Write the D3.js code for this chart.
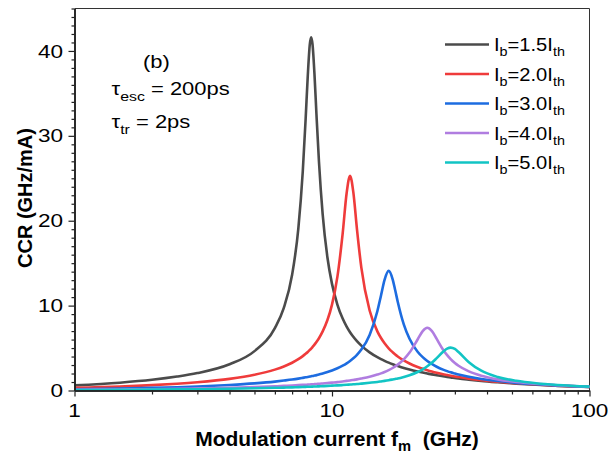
<!DOCTYPE html>
<html><head><meta charset="utf-8">
<script src="https://cdn.jsdelivr.net/npm/d3@7/dist/d3.min.js"></script>
<style>
body{margin:0;background:#fff}
svg{display:block}
text{font-family:Arial,"Liberation Sans",sans-serif;fill:#000}
</style>
</head><body>
<svg id="chart" width="608" height="455"></svg>
<script>
// Modulation frequency grid (GHz)
const freqGHz = [1, 1.5, 2, 2.5, 3, 4, 5, 6, 6.5, 7, 7.4, 7.7, 7.9, 8.05, 8.2, 8.3, 8.4, 8.55, 8.7, 8.9, 9.2, 9.6, 10, 10.5, 11, 11.4, 11.75, 12.1, 12.5, 13, 14, 15, 15.5, 16, 16.6, 17.2, 17.6, 18, 19, 20, 21.5, 22.5, 23.45, 24.4, 25.5, 27, 28, 28.9, 30, 31, 34, 38, 44, 52, 62, 75, 100];
// CCR (GHz/mA) for each bias current
const ccrIb15 = [0.60, 0.92, 1.26, 1.64, 2.05, 3.09, 4.64, 7.36, 9.73, 13.63, 19.08, 25.80, 31.98, 36.99, 40.78, 41.62, 40.80, 37.24, 32.60, 26.95, 20.76, 15.67, 12.56, 10.10, 8.47, 7.53, 6.87, 6.33, 5.81, 5.28, 4.49, 3.92, 3.69, 3.49, 3.28, 3.10, 2.99, 2.89, 2.66, 2.47, 2.24, 2.11, 2.00, 1.90, 1.80, 1.68, 1.60, 1.55, 1.48, 1.42, 1.28, 1.13, 0.97, 0.81, 0.67, 0.55, 0.41];
const ccrIb20 = [0.31, 0.46, 0.63, 0.80, 0.98, 1.37, 1.85, 2.46, 2.83, 3.27, 3.69, 4.05, 4.32, 4.54, 4.78, 4.94, 5.12, 5.40, 5.71, 6.16, 6.96, 8.30, 10.12, 13.44, 18.49, 23.27, 25.30, 23.36, 19.02, 14.47, 9.42, 6.97, 6.18, 5.56, 4.97, 4.51, 4.24, 4.01, 3.54, 3.18, 2.77, 2.55, 2.38, 2.23, 2.08, 1.91, 1.82, 1.74, 1.65, 1.58, 1.40, 1.22, 1.03, 0.85, 0.70, 0.57, 0.43];
const ccrIb30 = [0.15, 0.23, 0.31, 0.39, 0.47, 0.65, 0.84, 1.05, 1.17, 1.29, 1.40, 1.49, 1.55, 1.59, 1.64, 1.68, 1.71, 1.76, 1.81, 1.89, 2.00, 2.17, 2.36, 2.62, 2.92, 3.20, 3.48, 3.79, 4.20, 4.82, 6.55, 9.34, 11.20, 13.04, 14.09, 13.10, 11.80, 10.46, 7.79, 6.09, 4.57, 3.93, 3.48, 3.13, 2.80, 2.46, 2.28, 2.14, 2.00, 1.88, 1.61, 1.36, 1.11, 0.90, 0.73, 0.59, 0.43];
const ccrIb40 = [0.08, 0.12, 0.15, 0.19, 0.23, 0.31, 0.40, 0.49, 0.54, 0.59, 0.63, 0.66, 0.68, 0.69, 0.71, 0.72, 0.73, 0.75, 0.77, 0.79, 0.83, 0.88, 0.93, 0.99, 1.07, 1.13, 1.18, 1.24, 1.31, 1.41, 1.62, 1.88, 2.02, 2.18, 2.40, 2.65, 2.84, 3.05, 3.67, 4.47, 6.01, 7.00, 7.39, 7.03, 6.08, 4.81, 4.16, 3.69, 3.24, 2.91, 2.25, 1.74, 1.31, 1.00, 0.79, 0.62, 0.44];
const ccrIb50 = [0.05, 0.08, 0.10, 0.13, 0.15, 0.21, 0.26, 0.32, 0.34, 0.37, 0.40, 0.42, 0.43, 0.44, 0.45, 0.45, 0.46, 0.47, 0.48, 0.49, 0.51, 0.54, 0.57, 0.60, 0.64, 0.67, 0.70, 0.73, 0.76, 0.81, 0.91, 1.01, 1.07, 1.13, 1.21, 1.30, 1.36, 1.42, 1.60, 1.80, 2.18, 2.50, 2.85, 3.26, 3.81, 4.56, 4.93, 5.05, 4.89, 4.54, 3.34, 2.33, 1.59, 1.14, 0.85, 0.65, 0.46];
const biasLabels = ["1.5", "2.0", "3.0", "4.0", "5.0"];
const seriesColors = ["#4b4b4b", "#ef3b3b", "#1d6ce0", "#b07de0", "#12c4c4"];
const xTickValues = [1, 10, 100];
const xTickLabels = ["1", "10", "100"];
const yTickValues = [0, 10, 20, 30, 40];
const yTickLabels = ["0", "10", "20", "30", "40"];

const seriesValues = [ccrIb15, ccrIb20, ccrIb30, ccrIb40, ccrIb50];

const svg = d3.select("#chart");
const L = 74.5, R = 589.5, T = 8.5, B = 390.5;
const x = d3.scaleLog().domain([1, 100]).range([L, R]);
const y = d3.scaleLinear().domain([0, 45]).range([B, T]);
const SX = 1.22; // horizontal text stretch seen in the reference

// frame (top + right)
svg.append("path").attr("d", `M${L},${T}H${R}V${B}`).attr("fill", "none").attr("stroke", "#333").attr("stroke-width", 1);

// curves
const line = d3.line().x(d => x(d[0])).y(d => y(d[1])).curve(d3.curveMonotoneX);
const plot = svg.append("g");
seriesValues.forEach((vals, i) => {
  plot.append("path")
    .datum(freqGHz.map((f, k) => [f, vals[k]]))
    .attr("d", line).attr("fill", "none")
    .attr("stroke", seriesColors[i]).attr("stroke-width", 2.6)
    .attr("stroke-linejoin", "round");
});

// axes
const yMinor = d3.range(0, 46, 1).filter(v => v % 10 !== 0);
const xMinor = [2,3,4,5,6,7,8,9,20,30,40,50,60,70,80,90];
const gy = svg.append("g").attr("transform", `translate(${L},0)`);
gy.call(d3.axisLeft(y).tickValues(yTickValues).tickSize(6).tickSizeOuter(0).tickFormat(""));
gy.append("g").call(d3.axisLeft(y).tickValues(yMinor).tickSize(3).tickSizeOuter(0).tickFormat(""));
const gx = svg.append("g").attr("transform", `translate(0,${B})`);
gx.call(d3.axisBottom(x).tickValues(xTickValues).tickSize(6).tickSizeOuter(0).tickFormat(""));
gx.append("g").call(d3.axisBottom(x).tickValues(xMinor).tickSize(4).tickSizeOuter(0).tickFormat(""));
svg.selectAll(".domain").attr("stroke", "#222").attr("stroke-width", 1.6);
svg.selectAll(".tick line").attr("stroke", "#222").attr("stroke-width", 1.2);

function stext(px, py, anchor, size, weight, sx) {
  return svg.append("text")
    .attr("transform", `translate(${px},${py}) scale(${sx},1)`)
    .attr("text-anchor", anchor).attr("font-size", size).attr("font-weight", weight);
}

// tick labels
yTickValues.forEach((v, i) => {
  stext(63, y(v) + 6.6, "end", 18.5, "normal", SX).text(yTickLabels[i]);
});
xTickValues.forEach((v, i) => {
  stext(x(v), 417, "middle", 18.5, "normal", SX).text(xTickLabels[i]);
});

// axis titles
const xt = stext(337, 446, "middle", 20, "bold", 1.05);
xt.append("tspan").text("Modulation current f");
xt.append("tspan").attr("font-size", 14).attr("dy", 5).text("m");
xt.append("tspan").attr("dy", -5).text("\u00a0 (GHz)");
svg.append("text").attr("transform", "translate(31.5,198) rotate(-90) scale(1,1.05)")
  .attr("text-anchor", "middle").attr("font-size", 20).attr("font-weight", "bold")
  .text("CCR (GHz/mA)");

// annotations
stext(143, 68, "start", 18, "normal", SX).text("(b)");
const a1 = stext(111.5, 95, "start", 18, "normal", SX);
a1.append("tspan").text("\u03c4");
a1.append("tspan").attr("font-size", 13).attr("dy", 6).text("esc");
a1.append("tspan").attr("dy", -6).text(" = 200ps");
const a2 = stext(111.5, 128, "start", 18, "normal", SX);
a2.append("tspan").text("\u03c4");
a2.append("tspan").attr("font-size", 13).attr("dy", 6).text("tr");
a2.append("tspan").attr("dy", -6).text(" = 2ps");

// legend
const rowY = d3.scalePoint().domain(biasLabels).range([44.5, 162.5]);
biasLabels.forEach((b, i) => {
  const yy = rowY(b);
  svg.append("line").attr("x1", 445).attr("x2", 489).attr("y1", yy).attr("y2", yy)
    .attr("stroke", seriesColors[i]).attr("stroke-width", 2.6);
  const t = stext(494, yy + 6.5, "start", 17.5, "normal", 1.15);
  t.append("tspan").text("I");
  t.append("tspan").attr("font-size", 12.5).attr("dy", 5).text("b");
  t.append("tspan").attr("dy", -5).text("=" + b + "I");
  t.append("tspan").attr("font-size", 12.5).attr("dy", 5).text("th");
});
</script>
</body></html>
